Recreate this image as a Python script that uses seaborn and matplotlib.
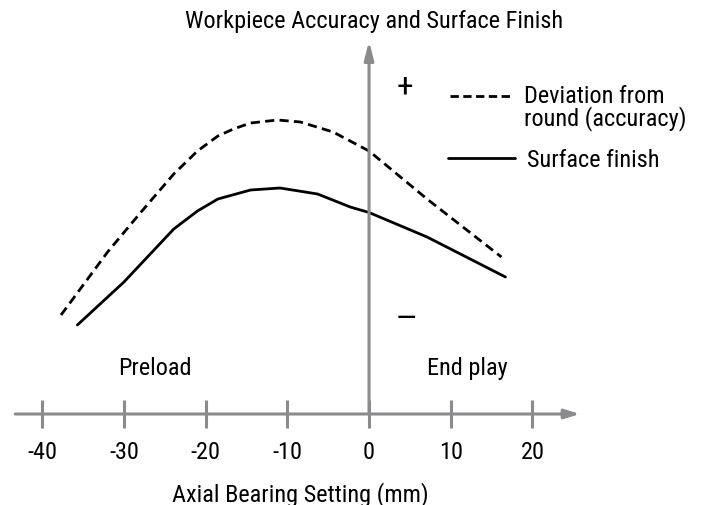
import matplotlib
matplotlib.use("Agg")
import matplotlib.pyplot as plt
import seaborn as sns
import pandas as pd

# Axial bearing setting (mm) and relative level for each workpiece quality curve
accuracy_setting = [-37.7, -32.0, -27.9, -23.9, -21.0, -18.5, -16.6, -14.5,
                    -11.2, -8.4, -4.4, 0.0, 7.1, 16.2]
accuracy_level = [99, 162, 202, 240, 263, 278, 285, 291,
                  294, 292, 282, 263, 215, 157]
finish_setting = [-35.7, -30.0, -23.9, -21.0, -18.5, -14.5, -10.9,
                  -6.3, -2.3, 0.0, 7.1, 16.7]
finish_level = [89, 132, 185, 203, 215, 224, 226,
                220, 207, 201.5, 177, 137]
tick_values = [-40, -30, -20, -10, 0, 10, 20]
tick_labels = ["-40", "-30", "-20", "-10", "0", "10", "20"]
series_names = ["Deviation from\nround (accuracy)", "Surface finish"]

df = pd.concat([
    pd.DataFrame({"setting": accuracy_setting, "level": accuracy_level, "curve": "accuracy"}),
    pd.DataFrame({"setting": finish_setting, "level": finish_level, "curve": "finish"}),
], ignore_index=True)

sns.set_style("white")
plt.rcParams["font.family"] = ["Roboto Condensed", "Archivo Narrow", "DejaVu Sans"]
plt.rcParams["text.color"] = "black"

FS = 17.5
GRAY = "#8b8b8d"

fig = plt.figure(figsize=(7.04, 5.06), dpi=100)
ax = fig.add_axes([0, 0, 1, 1])
ax.set_xlim(-45.17, 41.0)
ax.set_ylim(-91, 415)

# Curves
sns.lineplot(data=df, x="setting", y="level", style="curve",
             dashes={"accuracy": (3.3, 1.9), "finish": ""},
             color="black", linewidth=2.0, legend=False, sort=False,
             estimator=None, ax=ax)
ax.set_axis_off()

# Horizontal axis with arrow and ticks
ax.annotate("", xy=(25.8, 0), xytext=(-43.3, 0),
            arrowprops=dict(arrowstyle="-|>,head_length=0.9,head_width=0.28",
                            color=GRAY, lw=2.2, shrinkA=0, shrinkB=0))
ax.vlines(tick_values, -14, 14, color=GRAY, lw=2.2)
for v, lab in zip(tick_values, tick_labels):
    ax.text(v, -44, lab, ha="center", va="baseline", fontsize=FS)

# Vertical axis with arrow
ax.annotate("", xy=(0, 373), xytext=(0, 0),
            arrowprops=dict(arrowstyle="-|>,head_length=1.1,head_width=0.28",
                            color=GRAY, lw=2.2, shrinkA=0, shrinkB=0))

# Titles
ax.text(0.6, 387, "Workpiece Accuracy and Surface Finish", ha="center",
        va="baseline", fontsize=FS)
ax.text(-8.4, -86.7, "Axial Bearing Setting (mm)", ha="center",
        va="baseline", fontsize=FS)

# Region labels and signs
ax.text(-26.2, 40, "Preload", ha="center", va="baseline", fontsize=FS)
ax.text(12.0, 40, "End play", ha="center", va="baseline", fontsize=FS)
ax.text(4.4, 328, "+", ha="center", va="center", fontsize=24)
ax.text(4.47, 96, "\u2014", ha="center", va="center", fontsize=22)

# Legend keys
ax.plot([9.91, 17.63], [318, 318], color="black", lw=2.0, dashes=(3.0, 1.6))
ax.plot([9.67, 17.87], [256, 256], color="black", lw=2.0)
name_lines = series_names[0].split("\n")
ax.text(18.97, 312, name_lines[0], ha="left", va="baseline", fontsize=FS)
ax.text(18.97, 290, name_lines[1], ha="left", va="baseline", fontsize=FS)
ax.text(19.34, 248, series_names[1], ha="left", va="baseline", fontsize=FS)

fig.savefig("out.png", dpi=100)
